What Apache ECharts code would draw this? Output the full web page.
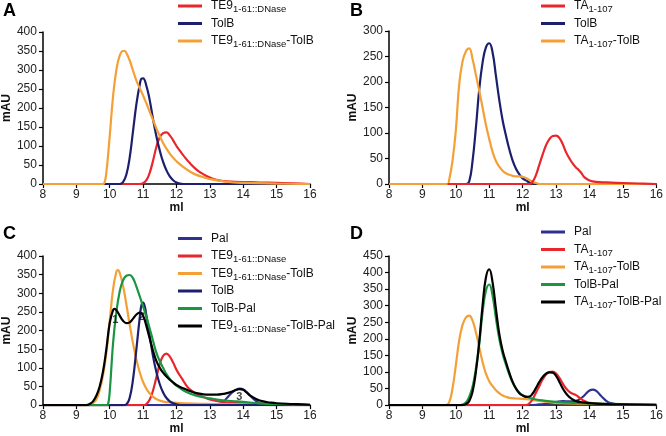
<!DOCTYPE html>
<html><head><meta charset="utf-8">
<script src="https://cdn.jsdelivr.net/npm/echarts@6/dist/echarts.min.js"></script>
<style>html,body{margin:0;padding:0;background:#fff}#c{width:666px;height:436px}</style>
</head><body><div id="c"></div>
<script>
// ---------- data (x = ml, y = mAU) ----------
const A_TE9 = [[8,0],[10.9,0],[11.0,2],[11.1,10],[11.2,30],[11.3,62],[11.4,98],[11.5,123],[11.6,134],[11.7,136],[11.8,128],[11.9,115],[12.0,100],[12.1,88],[12.2,76],[12.4,55],[12.6,38],[12.8,26],[13.0,17],[13.2,11],[13.5,7],[14.0,5],[14.2,5],[14.5,4],[15,3],[15.5,2],[16,0]];
const A_TolB = [[8,0],[10.3,0],[10.4,5],[10.5,25],[10.6,70],[10.7,140],[10.8,210],[10.9,262],[10.95,277],[11.0,278],[11.1,258],[11.2,220],[11.3,170],[11.4,125],[11.5,88],[11.6,58],[11.7,36],[11.8,20],[11.9,10],[12.0,4],[12.1,1],[12.2,0],[16,0]];
const A_TE9TolB = [[8,0],[9.8,0],[9.85,5],[9.9,30],[10.0,125],[10.1,230],[10.2,300],[10.3,338],[10.4,350],[10.45,350],[10.5,345],[10.6,325],[10.7,298],[10.8,272],[10.9,252],[11.0,233],[11.1,212],[11.2,190],[11.3,168],[11.4,146],[11.5,126],[11.6,108],[11.7,93],[11.8,80],[11.9,69],[12.0,60],[12.2,45],[12.4,33],[12.6,24],[12.8,18],[13.0,13],[13.5,6],[14,3],[15,1],[16,0]];

const B_TA = [[9.75,0],[12.2,0],[12.3,5],[12.4,18],[12.5,38],[12.6,58],[12.7,76],[12.8,88],[12.9,94],[13.0,95],[13.1,90],[13.2,78],[13.3,62],[13.4,50],[13.5,40],[13.6,32],[13.67,28],[13.75,22],[13.85,13],[14.0,7],[14.2,4],[14.5,3],[15,2],[15.5,1],[16,0]];
const B_TolB = [[8,0],[10.3,0],[10.4,5],[10.5,45],[10.6,110],[10.7,185],[10.8,238],[10.9,268],[11.0,276],[11.1,258],[11.2,212],[11.3,165],[11.4,125],[11.5,95],[11.6,68],[11.7,46],[11.8,30],[11.9,19],[12.0,11],[12.1,7],[12.2,3],[12.3,1],[12.4,0],[16,0]];
const B_TATolB = [[8,0],[9.75,0],[9.8,8],[9.9,45],[10.0,105],[10.1,195],[10.2,240],[10.3,260],[10.4,266],[10.5,245],[10.6,214],[10.7,183],[10.8,150],[10.9,116],[11.0,88],[11.1,63],[11.2,45],[11.3,34],[11.4,26],[11.5,21],[11.6,18],[11.7,16],[11.8,15],[11.9,15],[12.0,14],[12.1,12],[12.2,8],[12.3,4],[12.4,2],[12.5,0],[16,0]];

const C_Pal = [[8,0],[13.2,0],[13.3,2],[13.4,8],[13.5,18],[13.6,28],[13.7,36],[13.8,42],[13.9,44],[14.0,42],[14.1,35],[14.2,26],[14.3,17],[14.4,10],[14.5,5],[14.6,2],[14.8,0],[16,0]];
const C_TE9 = [[8,0],[11.0,0],[11.1,3],[11.2,15],[11.3,40],[11.4,75],[11.5,110],[11.6,132],[11.7,138],[11.8,130],[11.9,114],[12.0,95],[12.1,80],[12.2,66],[12.3,52],[12.4,42],[12.6,30],[12.8,22],[13.0,15],[13.2,11],[13.5,7],[14,5],[14.5,4],[15,3],[16,0]];
const C_TE9TolB = [[8,0],[9.4,0],[9.5,5],[9.6,15],[9.7,40],[9.8,80],[9.9,140],[10.0,225],[10.1,310],[10.2,358],[10.25,362],[10.3,355],[10.4,320],[10.5,270],[10.6,215],[10.7,165],[10.8,122],[10.9,88],[11.0,62],[11.1,44],[11.2,31],[11.3,22],[11.4,16],[11.5,12],[11.7,8],[12,6],[12.5,4],[13,3],[14,2],[15,1],[16,0]];
const C_TolB = [[8,0],[10.4,0],[10.5,2],[10.6,20],[10.7,70],[10.8,150],[10.9,235],[10.95,268],[11.0,275],[11.05,265],[11.1,240],[11.2,185],[11.3,130],[11.4,88],[11.5,56],[11.6,34],[11.7,19],[11.8,10],[11.9,5],[12.0,2],[12.2,0],[16,0]];
const C_TolBPal = [[8,0],[9.9,0],[9.95,2],[10.0,35],[10.1,165],[10.2,250],[10.3,305],[10.4,335],[10.5,347],[10.6,349],[10.7,340],[10.8,318],[10.9,292],[11.0,265],[11.1,237],[11.2,205],[11.3,172],[11.4,140],[11.5,118],[11.6,100],[11.7,83],[11.8,70],[11.9,60],[12.0,52],[12.2,40],[12.4,31],[12.6,25],[12.8,21],[13.0,18],[13.4,13],[13.8,10],[14.2,7],[14.6,4],[15,3],[15.5,2],[16,1]];
const C_TE9TolBPal = [[8,0],[9.3,0],[9.4,3],[9.5,10],[9.6,25],[9.7,50],[9.8,90],[9.9,150],[10.0,220],[10.1,255],[10.15,258],[10.2,255],[10.3,240],[10.4,226],[10.5,220],[10.6,222],[10.7,232],[10.8,243],[10.9,248],[11.0,240],[11.1,212],[11.2,178],[11.3,145],[11.4,118],[11.5,100],[11.6,87],[11.7,77],[11.8,68],[11.9,61],[12.0,54],[12.2,45],[12.4,38],[12.6,32],[12.8,29],[13.0,28],[13.2,28],[13.4,30],[13.6,34],[13.8,41],[13.9,43],[14.0,41],[14.1,34],[14.2,26],[14.4,16],[14.6,10],[14.8,7],[15.0,5],[15.5,3],[16,1]];
const C_peakNumbers = [[10.17,229,'1'],[10.96,237,'2'],[13.88,21,'3']];

const D_Pal = [[8,0],[12.2,0],[12.5,2],[12.8,5],[13.0,9],[13.2,12],[13.4,11],[13.6,13],[13.8,25],[13.9,35],[14.0,44],[14.1,47],[14.2,43],[14.3,33],[14.4,22],[14.5,13],[14.6,7],[14.8,3],[15,1],[16,0]];
const D_TA = [[8,0],[12.1,0],[12.2,5],[12.3,18],[12.4,38],[12.5,58],[12.6,78],[12.7,92],[12.8,100],[12.9,101],[13.0,95],[13.1,82],[13.2,65],[13.3,50],[13.4,40],[13.5,34],[13.6,30],[13.7,22],[13.8,15],[13.9,10],[14.0,7],[14.3,4],[15,2],[16,0]];
const D_TATolB = [[8,0],[9.7,0],[9.8,8],[9.9,50],[10.0,120],[10.1,195],[10.2,242],[10.3,264],[10.4,270],[10.5,255],[10.6,220],[10.7,175],[10.8,130],[10.9,95],[11.0,72],[11.1,57],[11.2,45],[11.3,36],[11.4,29],[11.5,25],[11.6,22],[11.8,20],[12.0,19],[12.2,17],[12.4,14],[12.6,11],[12.8,9],[13.0,7],[13.5,5],[14,4],[15,2],[16,1]];
const D_TolBPal = [[8,0],[10.1,0],[10.2,2],[10.3,8],[10.4,25],[10.5,55],[10.6,110],[10.7,185],[10.8,280],[10.9,345],[11.0,364],[11.1,330],[11.2,262],[11.3,200],[11.4,155],[11.5,122],[11.6,92],[11.7,68],[11.8,50],[11.9,38],[12.0,30],[12.1,26],[12.2,22],[12.4,17],[12.6,14],[13.0,10],[13.5,7],[14,5],[15,3],[16,1]];
const D_TATolBPal = [[8,0],[10.2,0],[10.3,3],[10.4,12],[10.5,40],[10.6,100],[10.7,190],[10.8,300],[10.9,385],[11.0,410],[11.1,370],[11.2,290],[11.3,215],[11.4,165],[11.5,130],[11.6,98],[11.7,70],[11.8,50],[11.9,36],[12.0,29],[12.1,25],[12.2,26],[12.3,35],[12.4,52],[12.5,70],[12.6,85],[12.7,95],[12.8,99],[12.9,98],[13.0,88],[13.1,70],[13.2,50],[13.3,35],[13.4,24],[13.5,17],[13.6,12],[13.8,8],[14.0,6],[14.5,3],[15,2],[16,1]];

const yMax = [400, 300, 400, 450];
const panelLetters = ['A','B','C','D'];

// ---------- style ----------
const FONT = 'Liberation Sans, Arial, Helvetica, sans-serif';
const RED = '#e8262b', NAVY = '#1c1f6e', PAL = '#2e3192', ORANGE = '#f4a036', GREEN = '#1a9641', BLACK = '#000000';

const LABELS = {
  'A_TE9':'TE9{s|1-61::DNase}', 'A_TolB':'TolB', 'A_TE9TolB':'TE9{s|1-61::DNase}-TolB',
  'B_TA':'TA{s|1-107}', 'B_TolB':'TolB', 'B_TATolB':'TA{s|1-107}-TolB',
  'C_Pal':'Pal', 'C_TE9':'TE9{s|1-61::DNase}', 'C_TE9TolB':'TE9{s|1-61::DNase}-TolB', 'C_TolB':'TolB', 'C_TolBPal':'TolB-Pal', 'C_TE9TolBPal':'TE9{s|1-61::DNase}-TolB-Pal',
  'D_Pal':'Pal', 'D_TA':'TA{s|1-107}', 'D_TATolB':'TA{s|1-107}-TolB', 'D_TolBPal':'TolB-Pal', 'D_TATolBPal':'TA{s|1-107}-TolB-Pal'
};

const grids = [
  {left:40, top:32, width:270, height:152},
  {left:389, top:31, width:269, height:153},
  {left:40, top:256, width:270, height:154},
  {left:389, top:256, width:269, height:154}
];

function xAx(i){ return {gridIndex:i, type:'value', min:8, max:16, interval:1,
  name:'ml', nameLocation:'middle', nameGap:15, nameTextStyle:{fontFamily:FONT, fontSize:12, fontWeight:'bold', color:'#111'},
  axisLine:{show:true, onZero:false, lineStyle:{color:'#000', width:1.5}},
  axisTick:{show:true, length:4, lineStyle:{color:'#000', width:1.2}},
  axisLabel:{fontFamily:FONT, fontSize:12, color:'#222', margin:5},
  splitLine:{show:false}}; }
function yAx(i){ return {gridIndex:i, type:'value', min:0, max:yMax[i], interval:50,
  name:'mAU', nameLocation:'middle', nameGap:26, nameRotate:90, nameTextStyle:{fontFamily:FONT, fontSize:12, fontWeight:'bold', color:'#111'},
  axisLine:{show:true, lineStyle:{color:'#000', width:1.5}},
  axisTick:{show:true, length:4, lineStyle:{color:'#000', width:1.2}},
  axisLabel:{fontFamily:FONT, fontSize:12, color:'#222', margin:6},
  splitLine:{show:false}}; }

function ln(name, data, color, gi, z){
  return {type:'line', name:name, data:data, xAxisIndex:gi, yAxisIndex:gi, smooth:0.45,
    symbol:'none', showSymbol:false, z:z||2, lineStyle:{color:color, width:2.2}, itemStyle:{color:color}};
}

function legend(names, left, top){
  return {data:names, orient:'vertical', left:left, top:top, itemGap:0.5, itemWidth:24, itemHeight:3,
    icon:'rect', selectedMode:false, padding:0,
    formatter:function(n){ return LABELS[n]; },
    textStyle:{fontFamily:FONT, fontSize:12, color:'#111', lineHeight:17, padding:[0,0,0,4],
      rich:{s:{fontFamily:FONT, fontSize:9.5, color:'#111', verticalAlign:'bottom', lineHeight:11}}}};
}

const series = [
  ln('A_TE9', A_TE9, RED, 0, 2), ln('A_TolB', A_TolB, NAVY, 0, 3), ln('A_TE9TolB', A_TE9TolB, ORANGE, 0, 4),
  ln('B_TolB', B_TolB, NAVY, 1, 2), ln('B_TATolB', B_TATolB, ORANGE, 1, 3), ln('B_TA', B_TA, RED, 1, 4),
  ln('C_Pal', C_Pal, PAL, 2, 2), ln('C_TE9', C_TE9, RED, 2, 2), ln('C_TE9TolB', C_TE9TolB, ORANGE, 2, 3), ln('C_TolB', C_TolB, NAVY, 2, 3),
  ln('C_TolBPal', C_TolBPal, GREEN, 2, 4), ln('C_TE9TolBPal', C_TE9TolBPal, BLACK, 2, 5),
  ln('D_Pal', D_Pal, PAL, 3, 2), ln('D_TATolB', D_TATolB, ORANGE, 3, 3), ln('D_TA', D_TA, RED, 3, 3),
  ln('D_TolBPal', D_TolBPal, GREEN, 3, 4), ln('D_TATolBPal', D_TATolBPal, BLACK, 3, 5),
  {type:'scatter', xAxisIndex:2, yAxisIndex:2, data:C_peakNumbers, symbolSize:2, z:6,
   itemStyle:{color:'rgba(0,0,0,0)'}, silent:true,
   label:{show:true, position:'inside', formatter:function(p){return p.value[2];}, fontFamily:FONT, fontSize:11, fontWeight:'bold', color:'#111'}}
];

const chart = echarts.init(document.getElementById('c'), null, {renderer:'canvas'});
chart.setOption({
  animation:false,
  backgroundColor:'#fff',
  title: panelLetters.map(function(t, i){
    return {text:t, left:(i%2===0)?3:350, top:(i<2)?2:225, padding:0,
      textStyle:{fontFamily:FONT, fontSize:18, fontWeight:'bold', color:'#000'}};
  }),
  grid: grids,
  xAxis: [0,1,2,3].map(xAx),
  yAxis: [0,1,2,3].map(yAx),
  legend: [
    legend(['A_TE9','A_TolB','A_TE9TolB'], 178, -2.5),
    legend(['B_TA','B_TolB','B_TATolB'], 541, -2.5),
    legend(['C_Pal','C_TE9','C_TE9TolB','C_TolB','C_TolBPal','C_TE9TolBPal'], 178, 230),
    legend(['D_Pal','D_TA','D_TATolB','D_TolBPal','D_TATolBPal'], 541, 223.5)
  ],
  series: series
});
</script></body></html>
